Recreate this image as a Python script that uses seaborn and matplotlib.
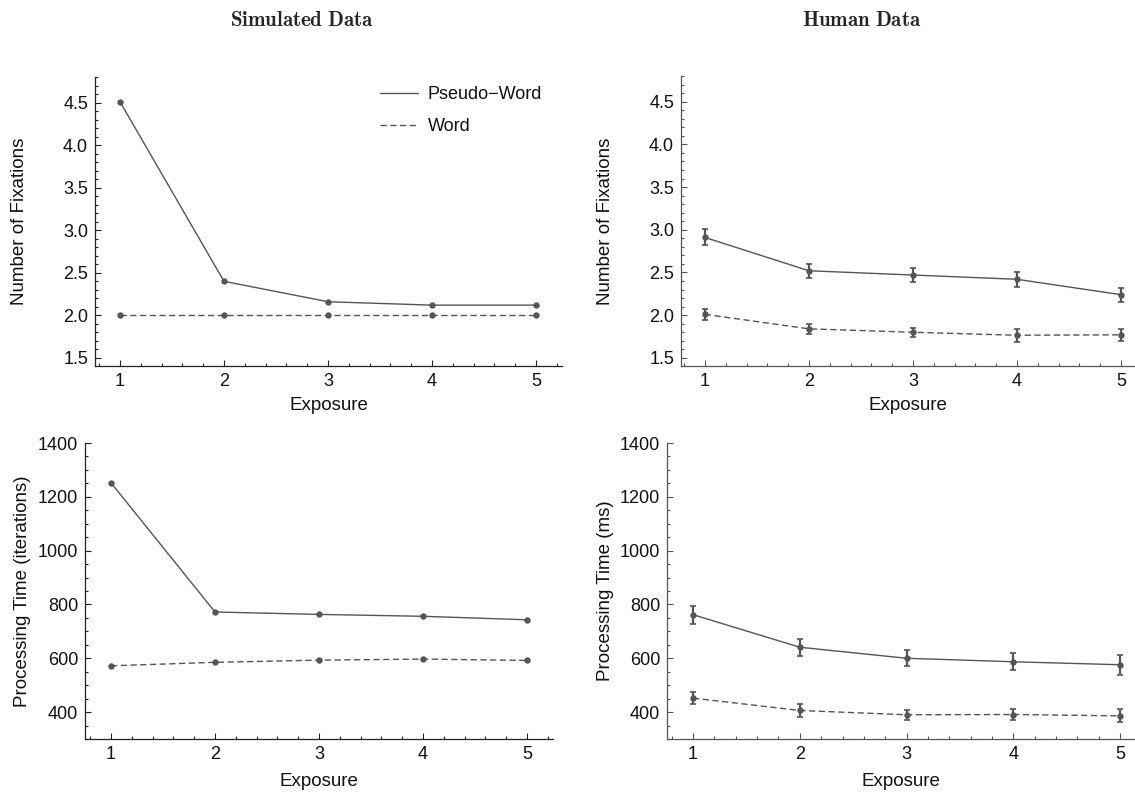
import numpy as np
import pandas as pd
import matplotlib
matplotlib.use("Agg")
import matplotlib.pyplot as plt
from matplotlib.ticker import MultipleLocator
import seaborn as sns

# ---- data ----
exposure = [1, 2, 3, 4, 5]
conditions = ["Pseudo\u2212Word", "Word"]

sim_fix_pseudo = [4.51, 2.40, 2.16, 2.12, 2.12]
sim_fix_word = [2.00, 2.00, 2.00, 2.00, 2.00]

hum_fix_pseudo = [2.91, 2.52, 2.47, 2.42, 2.24]
hum_fix_pseudo_err = [0.094, 0.083, 0.079, 0.089, 0.083]
hum_fix_word = [2.01, 1.84, 1.80, 1.765, 1.77]
hum_fix_word_err = [0.065, 0.059, 0.05, 0.075, 0.07]

sim_time_pseudo = [1252, 772, 763, 756, 743]
sim_time_word = [572, 585, 593, 597, 592]

hum_time_pseudo = [762, 641, 600, 587, 576]
hum_time_pseudo_err = [34, 31, 30, 31, 38]
hum_time_word = [452, 406, 390, 391, 386]
hum_time_word_err = [23, 23, 19, 22, 24]

titles = ["Simulated Data", "Human Data"]
xlabel = "Exposure"
ylabels = ["Number of Fixations", "Number of Fixations",
           "Processing Time (iterations)", "Processing Time (ms)"]

# ---- style ----
sns.set_theme(style="ticks")
plt.rcParams["font.family"] = ["Liberation Sans", "DejaVu Sans"]
plt.rcParams["mathtext.fontset"] = "cm"

color = "#555555"
lw = 1.0
txt = "#111111"

fig = plt.figure(figsize=(11.35, 7.94), dpi=100)

W, H = 1135.0, 794.0
def pos(left, right, top, bottom):
    return [left / W, 1 - bottom / H, (right - left) / W, (bottom - top) / H]

boxes = [(95, 562, 77, 366), (681, 1135, 76, 366), (85, 553, 443, 739), (667, 1135, 443, 739)]
axes = [fig.add_axes(pos(*b)) for b in boxes]
ax_tl, ax_tr, ax_bl, ax_br = axes

# label centres (pixels)
ylab_x = [20, 606, 22, 606]
xlab_y = [405, 405, 781, 781]

def make_df(p, w):
    return pd.DataFrame({
        "Exposure": exposure * 2,
        "value": list(p) + list(w),
        "cond": [conditions[0]] * len(exposure) + [conditions[1]] * len(exposure),
    })

panels = [
    (ax_tl, sim_fix_pseudo, sim_fix_word, None, None, "#222222"),
    (ax_tr, hum_fix_pseudo, hum_fix_word, hum_fix_pseudo_err, hum_fix_word_err, "#555555"),
    (ax_bl, sim_time_pseudo, sim_time_word, None, None, "#222222"),
    (ax_br, hum_time_pseudo, hum_time_word, hum_time_pseudo_err, hum_time_word_err, "#555555"),
]

for i, (ax, p, w, pe, we, spc) in enumerate(panels):
    df = make_df(p, w)
    sns.lineplot(data=df, x="Exposure", y="value", style="cond",
                 dashes={conditions[0]: "", conditions[1]: (4.5, 2.5)},
                 color=color, linewidth=lw, marker="o", markersize=4.6,
                 markeredgewidth=0, ax=ax, legend=(i == 0))
    if pe is not None:
        ax.errorbar(exposure, p, yerr=pe, fmt="none", ecolor=color,
                    elinewidth=1.6, capsize=2.3, capthick=1.2)
        ax.errorbar(exposure, w, yerr=we, fmt="none", ecolor=color,
                    elinewidth=1.6, capsize=2.3, capthick=1.2)
    for s in ["top", "right"]:
        ax.spines[s].set_visible(False)
    for s in ["left", "bottom"]:
        ax.spines[s].set_color(spc)
        ax.spines[s].set_linewidth(0.9)
    ax.tick_params(which="both", direction="in", colors=spc, labelcolor=txt,
                   labelsize=13, width=0.8)
    ax.tick_params(which="major", length=4.5, pad=5)
    ax.tick_params(which="minor", length=2.5)
    ax.xaxis.set_major_locator(MultipleLocator(1))
    ax.xaxis.set_minor_locator(MultipleLocator(0.2))
    ax.set_xlabel(xlabel, fontsize=13.5, color=txt, va="center")
    ax.set_ylabel(ylabels[i], fontsize=13.5, color=txt, va="center")
    l, r, t, b = boxes[i]
    ax.xaxis.set_label_coords(0.5, -(xlab_y[i] - b) / (b - t))
    ax.yaxis.set_label_coords((ylab_x[i] - l) / (r - l), 0.5)

# limits & ticks
for ax in (ax_tl, ax_tr):
    ax.set_ylim(1.405, 4.8)
    ax.yaxis.set_major_locator(MultipleLocator(0.5))
    ax.yaxis.set_minor_locator(MultipleLocator(0.1))
for ax in (ax_bl, ax_br):
    ax.set_ylim(300, 1400)
    ax.yaxis.set_major_locator(MultipleLocator(200))
    ax.yaxis.set_minor_locator(MultipleLocator(50))

ax_tl.set_xlim(0.76, 5.25)
ax_tr.set_xlim(0.77, 5.135)
ax_bl.set_xlim(0.75, 5.25)
ax_br.set_xlim(0.756, 5.14)

leg = ax_tl.legend(loc="upper left", bbox_to_anchor=(380 / W, 1 - 86 / H),
                   bbox_transform=fig.transFigure, frameon=False,
                   borderpad=0, borderaxespad=0,
                   fontsize=13, handlelength=2.1, handletextpad=0.55,
                   labelspacing=0.85, title=None)
for t in leg.get_texts():
    t.set_color(txt)
for h in leg.get_lines():
    h.set_marker("")
    h.set_linewidth(lw)

fig.text(302 / W, 1 - 21 / H, r"$\mathbf{Simulated\ Data}$", ha="center", va="center", fontsize=15)
fig.text(862 / W, 1 - 21 / H, r"$\mathbf{Human\ Data}$", ha="center", va="center", fontsize=15)

fig.savefig("out.png", dpi=100)
